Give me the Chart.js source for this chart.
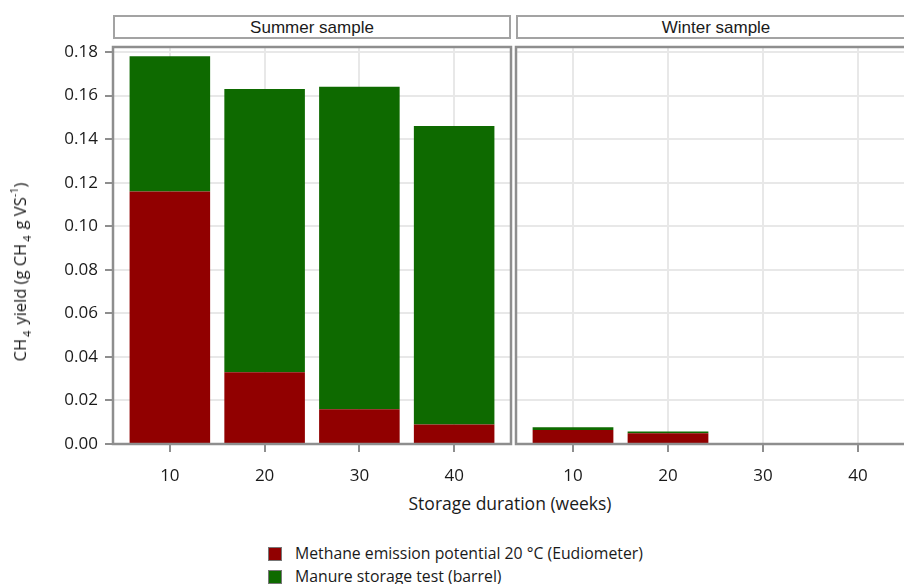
<!DOCTYPE html>
<html>
<head>
<meta charset="utf-8">
<script src="https://cdn.jsdelivr.net/npm/chart.js@4/dist/chart.umd.min.js"></script>
<style>
  html,body{margin:0;padding:0;background:#fff;}
  body{width:904px;height:584px;overflow:hidden;position:relative;font-family:"Open Sans",sans-serif;color:#1a1a1a;}
  canvas{position:absolute;}
  .strip{position:absolute;top:15px;height:20px;border:2px solid #a3a3a3;background:#fff;box-sizing:content-box;
         font-family:"Liberation Sans",Arial,sans-serif;font-size:17px;line-height:21px;text-align:center;color:#1a1a1a;}
  #ytitle{position:absolute;left:20px;top:272px;transform:translate(-50%,-50%) rotate(-90deg);white-space:nowrap;font-size:16.5px;}
  #ytitle sub{font-size:11px;vertical-align:-5px;margin:0 6px 0 2px;}
  #ytitle sup{font-size:11px;vertical-align:8px;}
  #xtitle{position:absolute;left:510px;top:503px;transform:translate(-50%,-50%);white-space:nowrap;font-size:17.5px;}
  .leg{position:absolute;left:268px;font-size:15.8px;white-space:nowrap;}
  .leg span.sw{position:absolute;left:0;top:1px;width:12px;height:12px;border:1px solid #777;}
  .leg span.tx{position:absolute;left:27px;top:-4px;}
</style>
</head>
<body>
<div class="strip" style="left:113px;width:394px;">Summer sample</div>
<div class="strip" style="left:516px;width:396px;">Winter sample</div>
<canvas id="c1" width="513" height="444" style="left:0;top:40px;"></canvas>
<canvas id="c2" width="412" height="444" style="left:510px;top:40px;"></canvas>
<div id="ytitle">CH<sub>4</sub>yield (g CH<sub>4</sub>g VS<sup>-1</sup>)</div>
<div id="xtitle">Storage duration (weeks)</div>
<div class="leg" style="top:546px;"><span class="sw" style="background:#910000"></span><span class="tx">Methane emission potential 20 °C (Eudiometer)</span></div>
<div class="leg" style="top:569px;"><span class="sw" style="background:#0e6a00"></span><span class="tx">Manure storage test (barrel)</span></div>
<script>
const weeks = [10, 20, 30, 40];
const yTicks = [0, 0.02, 0.04, 0.06, 0.08, 0.10, 0.12, 0.14, 0.16, 0.18];
const summerEudiometer = [0.116, 0.033, 0.016, 0.009];
const summerBarrel = [0.062, 0.130, 0.148, 0.137];
const winterEudiometer = [0.0064, 0.0049, 0, 0];
const winterBarrel = [0.0013, 0.0008, 0, 0];
const seriesNames = ["Methane emission potential 20 °C (Eudiometer)", "Manure storage test (barrel)"];
const colors = ["#910000", "#0e6a00"];

const AXIS = "#8e8e8e", GRID = "#e8e8e8", TXT = "#1a1a1a";
const FONT = {family: "Open Sans", size: 17};

const framePlugin = {
  id: "frame",
  afterDatasetsDraw(chart) {
    const {ctx, chartArea: a} = chart;
    ctx.save();
    ctx.strokeStyle = AXIS;
    ctx.lineWidth = 2.5;
    ctx.strokeRect(a.left, a.top, a.right - a.left, a.bottom - a.top);
    ctx.restore();
  }
};

function makeChart(id, eud, bar, showY, pad) {
  const pts = arr => weeks.map((w, i) => ({x: w, y: arr[i]}));
  return new Chart(document.getElementById(id), {
    type: "bar",
    data: {
      datasets: [
        {label: seriesNames[0], data: pts(eud), backgroundColor: colors[0], borderWidth: 0,
         barPercentage: 0.85, categoryPercentage: 1},
        {label: seriesNames[1], data: pts(bar), backgroundColor: colors[1], borderWidth: 0,
         barPercentage: 0.85, categoryPercentage: 1}
      ]
    },
    options: {
      responsive: false,
      animation: false,
      layout: {padding: pad},
      plugins: {legend: {display: false}, tooltip: {enabled: false}},
      scales: {
        x: {
          type: "linear", stacked: true, min: 4, max: 46, offset: false,
          afterBuildTicks: ax => { ax.ticks = weeks.map(v => ({value: v})); },
          afterFit: ax => { ax.height = 40; ax.paddingLeft = 0; ax.paddingRight = 0; },
          border: {display: false},
          grid: {offset: false, color: GRID, lineWidth: 2, tickColor: AXIS, tickWidth: 2, tickLength: 8, drawTicks: true},
          ticks: {color: TXT, font: FONT, padding: 14, maxRotation: 0}
        },
        y: {
          stacked: true, min: 0, max: 0.1823,
          afterBuildTicks: ax => { ax.ticks = yTicks.map(v => ({value: v})); },
          afterFit: ax => { ax.width = showY ? 113 : 0; ax.paddingTop = 0; ax.paddingBottom = 0; },
          border: {display: false},
          grid: {color: GRID, lineWidth: 2, tickColor: AXIS, tickWidth: 2, tickLength: 8, drawTicks: showY},
          ticks: {display: showY, color: TXT, font: FONT, padding: 7, callback: v => v.toFixed(2)}
        }
      }
    },
    plugins: [framePlugin]
  });
}

makeChart("c1", summerEudiometer, summerBarrel, true, {left: 0, right: 2, top: 7, bottom: 0});
makeChart("c2", winterEudiometer, winterBarrel, false, {left: 6, right: 7, top: 7, bottom: 0});
</script>
</body>
</html>
